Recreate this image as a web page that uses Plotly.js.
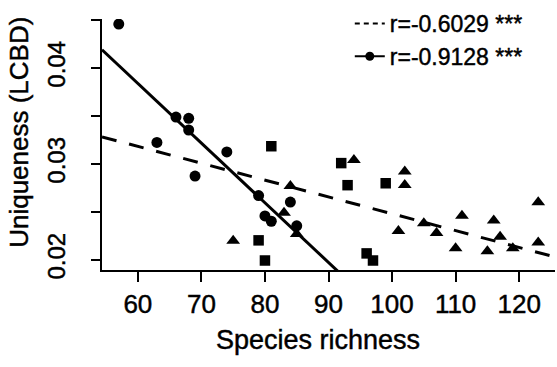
<!DOCTYPE html>
<html>
<head>
<meta charset="utf-8">
<script src="https://cdn.plot.ly/plotly-3.0.1.min.js"></script>
<style>
  html, body { margin: 0; padding: 0; background: #ffffff; }
  #chart { width: 557px; height: 367px; }
  /* slightly heavier glyphs, like the original raster output */
  #chart text { stroke: #000; stroke-width: 0.45px; }
</style>
</head>
<body>
<div id="chart"></div>
<script>
// Site groups: species richness against uniqueness (LCBD)
const circleRichness = [57, 63, 66, 68, 68, 69, 74, 79, 80, 81, 84, 85];
const circleLcbd = [0.04457, 0.03224, 0.03488, 0.03475, 0.03353, 0.02873, 0.03125, 0.02670, 0.02457, 0.02402, 0.02602, 0.02355];

const squareRichness = [79, 80, 81, 92, 93, 96, 97, 99];
const squareLcbd = [0.02203, 0.01993, 0.03184, 0.03008, 0.02778, 0.02067, 0.01993, 0.02798];

const triangleRichness = [75, 83, 84, 85, 94, 101, 102, 102, 105, 107, 110, 111, 115, 116, 117, 119, 123, 123];
const triangleLcbd = [0.0220, 0.0249, 0.0277, 0.0227, 0.0304, 0.0230, 0.0292, 0.0278, 0.0238, 0.0228, 0.0212, 0.0246, 0.0209, 0.0241, 0.0224, 0.0212, 0.0260, 0.0218];

const legendLabels = ['r=-0.6029 ***', 'r=-0.9128 ***'];
const xTicks = [60, 70, 80, 90, 100, 110, 120];
const yTicks = [0.02, 0.03, 0.04];
const yTickText = ['0.02', '0.03', '0.04'];
const xTitle = 'Species richness';
const yTitle = 'Uniqueness (LCBD)';

const xRange = [54.36, 125.64];
const yRange = [0.01894, 0.0451];
const FONT = '"Liberation Sans", Arial, Helvetica, sans-serif';

// ordinary least squares y = a + b x
function olsFit(xs, ys) {
  const n = xs.length;
  const mx = xs.reduce((s, v) => s + v, 0) / n;
  const my = ys.reduce((s, v) => s + v, 0) / n;
  let sxy = 0, sxx = 0;
  for (let i = 0; i < n; i++) {
    sxy += (xs[i] - mx) * (ys[i] - my);
    sxx += (xs[i] - mx) * (xs[i] - mx);
  }
  const b = sxy / sxx;
  return { a: my - b * mx, b: b };
}

const allRichness = circleRichness.concat(squareRichness, triangleRichness);
const allLcbd = circleLcbd.concat(squareLcbd, triangleLcbd);
const fitAll = olsFit(allRichness, allLcbd);
const fitCircle = olsFit(circleRichness, circleLcbd);
const lineX = xRange.slice();

const traces = [
  { // fit over all sites (dashed)
    x: lineX, y: lineX.map(v => fitAll.a + fitAll.b * v),
    mode: 'lines', showlegend: false, hoverinfo: 'skip',
    line: { color: '#000', width: 3, dash: '15px,13px' }
  },
  { // fit over the circle group (solid)
    x: lineX, y: lineX.map(v => fitCircle.a + fitCircle.b * v),
    mode: 'lines', showlegend: false, hoverinfo: 'skip',
    line: { color: '#000', width: 3 }
  },
  {
    x: circleRichness, y: circleLcbd, mode: 'markers', showlegend: false,
    marker: { symbol: 'circle', size: 11, color: '#000' }
  },
  {
    x: squareRichness, y: squareLcbd, mode: 'markers', showlegend: false,
    marker: { symbol: 'square', size: 10.5, color: '#000' }
  },
  {
    x: triangleRichness, y: triangleLcbd, mode: 'markers', showlegend: false,
    marker: { symbol: 'triangle-up', size: 12, color: '#000' }
  },
  { // legend keys
    x: [null], y: [null], mode: 'lines', name: legendLabels[0],
    line: { color: '#000', width: 2, dash: '5px,4px' }
  },
  {
    x: [null], y: [null], mode: 'lines+markers', name: legendLabels[1],
    line: { color: '#000', width: 2 },
    marker: { symbol: 'circle', size: 9, color: '#000' }
  }
];

const layout = {
  width: 557, height: 367,
  margin: { l: 102, r: 2, t: 12, b: 97 },
  paper_bgcolor: '#fff', plot_bgcolor: '#fff',
  font: { family: FONT, color: '#000' },
  showlegend: true,
  legend: {
    x: 0.547, y: 1.068, xanchor: 'left', yanchor: 'top',
    bgcolor: 'rgba(0,0,0,0)', borderwidth: 0,
    font: { family: FONT, size: 23, color: '#000' },
    itemwidth: 30, tracegroupgap: 0
  },
  xaxis: {
    range: xRange, showgrid: false, zeroline: false,
    showline: true, linecolor: '#000', linewidth: 2,
    ticks: 'outside', ticklen: 10, tickwidth: 2, tickcolor: '#000',
    tickvals: xTicks, ticktext: xTicks.map(String),
    tickfont: { family: FONT, size: 26, color: '#000' }
  },
  yaxis: {
    range: yRange, showgrid: false, zeroline: false,
    showline: true, linecolor: '#000', linewidth: 2,
    ticks: 'outside', ticklen: 9, tickwidth: 2, tickcolor: '#000',
    tickvals: yTicks, ticktext: yTickText, tickangle: -90,
    ticklabelstandoff: 16,
    tickfont: { family: FONT, size: 24, color: '#000' },
    minor: { dtick: 0.005, tick0: 0, ticks: 'outside', ticklen: 9, tickwidth: 2, tickcolor: '#000', showgrid: false }
  },
  annotations: [
    { // x-axis title
      text: xTitle, xref: 'paper', yref: 'paper', x: 0.4768, y: -0.279,
      xanchor: 'center', yanchor: 'middle', showarrow: false,
      font: { family: FONT, size: 27, color: '#000' }
    },
    { // y-axis title
      text: yTitle, xref: 'paper', yref: 'paper', x: -0.1832, y: 0.5465,
      xanchor: 'center', yanchor: 'middle', showarrow: false, textangle: -90,
      font: { family: FONT, size: 26, color: '#000' }
    }
  ]
};

Plotly.newPlot('chart', traces, layout, { staticPlot: true, displayModeBar: false });
</script>
</body>
</html>
